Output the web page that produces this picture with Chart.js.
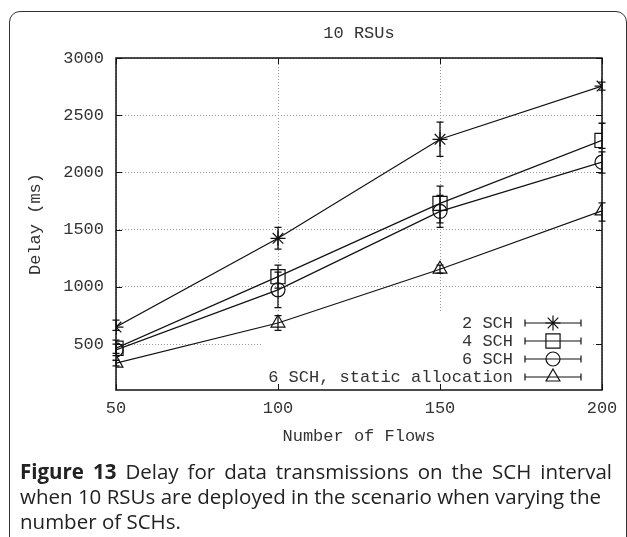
<!DOCTYPE html>
<html>
<head>
<meta charset="utf-8">
<script src="https://cdn.jsdelivr.net/npm/chart.js@4.4.0/dist/chart.umd.min.js"></script>
<style>
html, body { margin: 0; padding: 0; background: #fff; }
body { width: 627px; height: 537px; position: relative; overflow: hidden; }
#frame { position: absolute; left: 9px; top: 11px; width: 616px; height: 600px;
  border: 1.5px solid #333; border-radius: 11px; }
#wrap { position: absolute; left: 0; top: 0; width: 627px; height: 460px; }
#caption { position: absolute; left: 20px; top: 459px; font-family: "Open Sans", sans-serif;
  font-size: 20.5px; line-height: 25px; color: #222; white-space: nowrap; }
#caption b { font-weight: 700; }
#caption .j { text-align: justify; text-align-last: justify; }
</style>
</head>
<body>
<div id="frame"></div>
<div id="wrap"><canvas id="c" width="627" height="460"></canvas></div>
<div id="caption">
  <div class="j" style="width:592px"><b>Figure 13</b> Delay for data transmissions on the SCH interval</div>
  <div class="j" style="width:581px">when 10 RSUs are deployed in the scenario when varying the</div>
  <div>number of SCHs.</div>
</div>
<script>
/* values */
var flows = [50, 100, 150, 200];
var xTicks = [50, 100, 150, 200];
var yTicks = [500, 1000, 1500, 2000, 2500, 3000];
var seriesNames = ['2 SCH', '4 SCH', '6 SCH', '6 SCH, static allocation'];

var sch2 = [650, 1425, 2290, 2755];
var sch2Low = [620, 1330, 2140, 2720];
var sch2High = [710, 1520, 2440, 2790];

var sch4 = [465, 1090, 1730, 2280];
var sch4Low = [420, 990, 1560, 2210];
var sch4High = [535, 1190, 1880, 2430];

var sch6 = [450, 975, 1660, 2090];
var sch6Low = [400, 820, 1520, 1995];
var sch6High = [500, 1130, 1800, 2180];

var sch6s = [335, 685, 1155, 1665];
var sch6sLow = [310, 620, 1120, 1575];
var sch6sHigh = [360, 750, 1190, 1735];

var mono = 'Liberation Mono';
var ink = '#333';
var fsize = 17;

function pts(arr) {
  return flows.map(function (f, i) { return { x: f, y: arr[i] }; });
}

var styles = [
  { pointStyle: 'star', radius: 7.5 },
  { pointStyle: 'rect', radius: 10 },
  { pointStyle: 'circle', radius: 7 },
  { pointStyle: 'triangle', radius: 8 }
];
var values = [sch2, sch4, sch6, sch6s];
var lows = [sch2Low, sch4Low, sch6Low, sch6sLow];
var highs = [sch2High, sch4High, sch6High, sch6sHigh];

var datasets = values.map(function (v, i) {
  return {
    label: seriesNames[i],
    data: pts(v),
    borderColor: '#111',
    borderWidth: 1.2,
    pointStyle: styles[i].pointStyle,
    pointRadius: styles[i].radius,
    pointBorderColor: '#111',
    pointBorderWidth: 1.2,
    pointBackgroundColor: 'rgba(0,0,0,0)',
    fill: false,
    tension: 0
  };
});

function symbol(ctx, style, r, x, y) {
  ctx.save();
  ctx.strokeStyle = '#111';
  ctx.fillStyle = 'rgba(0,0,0,0)';
  ctx.lineWidth = 1.2;
  Chart.helpers.drawPoint(ctx, { pointStyle: style, radius: r, rotation: 0, borderWidth: 1.2 }, x, y);
  ctx.restore();
}

var decor = {
  id: 'decor',
  beforeDatasetsDraw: function (chart) {
    var ctx = chart.ctx, a = chart.chartArea;
    var xs = chart.scales.x, ys = chart.scales.y;
    // key box hides the grid
    ctx.save();
    ctx.fillStyle = '#fff';
    ctx.fillRect(a.left + 147, a.bottom - 77, a.right - 10 - (a.left + 147), 77);
    // error bars
    ctx.strokeStyle = '#111';
    ctx.lineWidth = 1.3;
    lows.forEach(function (lo, s) {
      for (var i = 0; i < flows.length; i++) {
        var px = xs.getPixelForValue(flows[i]);
        var pl = ys.getPixelForValue(lo[i]);
        var ph = ys.getPixelForValue(highs[s][i]);
        ctx.beginPath();
        ctx.moveTo(px, pl); ctx.lineTo(px, ph);
        ctx.moveTo(px - 3.5, pl); ctx.lineTo(px + 3.5, pl);
        ctx.moveTo(px - 3.5, ph); ctx.lineTo(px + 3.5, ph);
        ctx.stroke();
      }
    });
    ctx.restore();
  },
  afterDatasetsDraw: function (chart) {
    var ctx = chart.ctx, a = chart.chartArea;
    var xs = chart.scales.x, ys = chart.scales.y;
    ctx.save();
    // border
    ctx.strokeStyle = '#111';
    ctx.lineWidth = 1.5;
    ctx.strokeRect(a.left, a.top, a.right - a.left, a.bottom - a.top);
    // inward ticks on all sides
    ctx.lineWidth = 1;
    ctx.beginPath();
    yTicks.forEach(function (v) {
      var py = Math.round(ys.getPixelForValue(v)) + 0.5;
      ctx.moveTo(a.left, py); ctx.lineTo(a.left + 6, py);
      ctx.moveTo(a.right, py); ctx.lineTo(a.right - 6, py);
    });
    xTicks.forEach(function (v) {
      var px = Math.round(xs.getPixelForValue(v)) + 0.5;
      ctx.moveTo(px, a.bottom); ctx.lineTo(px, a.bottom - 6);
      ctx.moveTo(px, a.top); ctx.lineTo(px, a.top + 6);
    });
    ctx.stroke();
    // title
    ctx.fillStyle = ink;
    ctx.font = fsize + 'px "' + mono + '"';
    ctx.textAlign = 'center';
    ctx.textBaseline = 'middle';
    ctx.fillText('10 RSUs', (a.left + a.right) / 2, 33);
    // key
    ctx.textAlign = 'right';
    seriesNames.forEach(function (name, i) {
      var y = a.bottom - 67 + i * 18;
      ctx.fillStyle = ink;
      ctx.fillText(name, a.right - 89, y);
      var x0 = a.right - 77, x1 = a.right - 21;
      ctx.strokeStyle = '#111';
      ctx.lineWidth = 1.2;
      ctx.beginPath();
      ctx.moveTo(x0, y); ctx.lineTo(x1, y);
      ctx.moveTo(x0, y - 3.5); ctx.lineTo(x0, y + 3.5);
      ctx.moveTo(x1, y - 3.5); ctx.lineTo(x1, y + 3.5);
      ctx.stroke();
      symbol(ctx, styles[i].pointStyle, styles[i].radius, a.right - 49, y);
    });
    ctx.restore();
  }
};

var grid = {
  color: '#999',
  lineWidth: 1,
  drawTicks: false
};

function plain(v) { return String(v); }

new Chart(document.getElementById('c'), {
  type: 'line',
  data: { datasets: datasets },
  options: {
    responsive: false,
    animation: false,
    layout: { padding: { left: 20, right: 25, top: 58, bottom: 0 } },
    plugins: { legend: { display: false }, tooltip: { enabled: false }, title: { display: false } },
    scales: {
      x: {
        type: 'linear', min: 50, max: 200,
        afterBuildTicks: function (s) { s.ticks = xTicks.map(function (v) { return { value: v }; }); },
        afterFit: function (s) { s.height = 70; },
        grid: grid,
        border: { display: false, dash: [1, 2] },
        ticks: { color: ink, font: { family: mono, size: fsize }, padding: 8, maxRotation: 0, callback: plain },
        title: { display: true, text: 'Number of Flows', color: ink,
          font: { family: mono, size: fsize }, padding: { top: 0, bottom: 13 } }
      },
      y: {
        type: 'linear', min: 100, max: 3000,
        afterBuildTicks: function (s) { s.ticks = yTicks.map(function (v) { return { value: v }; }); },
        afterFit: function (s) { s.width = 96; },
        grid: grid,
        border: { display: false, dash: [1, 2] },
        ticks: { color: ink, font: { family: mono, size: fsize }, padding: 12, callback: plain },
        title: { display: true, text: 'Delay (ms)', color: ink,
          font: { family: mono, size: fsize }, padding: { top: 5, bottom: 0 } }
      }
    }
  },
  plugins: [decor]
});
</script>
</body>
</html>
